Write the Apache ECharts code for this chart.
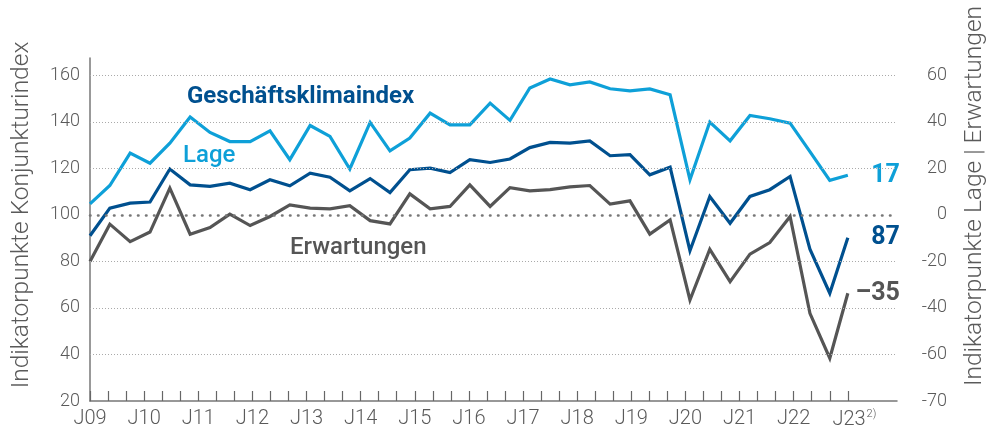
<!DOCTYPE html>
<html lang="de">
<head>
<meta charset="utf-8">
<title>Konjunkturindex</title>
<script src="https://cdn.jsdelivr.net/npm/echarts@6/dist/echarts.min.js"></script>
<style>
html, body {margin: 0; padding: 0; background: #fff;}
#chart {width: 990px; height: 433px;}
</style>
</head>
<body>
<div id="chart"></div>
<script>
// survey dates as months since January 2009
const surveyMonth = [0, 4.4, 8.9, 13.3, 17.7, 22.2, 26.6, 31.0, 35.5, 39.9,
	44.3, 48.8, 53.2, 57.6, 62.1, 66.5, 70.9, 75.4, 79.8, 84.2,
	88.7, 93.1, 97.5, 102.0, 106.4, 110.8, 115.3, 119.7, 124.1, 128.6,
	133.0, 137.4, 141.9, 146.3, 150.7, 155.2, 159.6, 164.0, 168];

// Geschäftsklimaindex, left axis
const klima = [91, 102.9, 105, 105.5, 119.7, 112.9, 112.2, 113.6, 110.8, 115.1,
	112.5, 117.9, 116.2, 110.3, 115.6, 109.6, 119.4, 120.1, 118.2, 123.7,
	122.5, 124, 128.9, 131.1, 130.8, 131.8, 125.4, 125.9, 117.2, 120.5,
	84.6, 107.9, 96.4, 107.9, 110.8, 116.5, 85.2, 66.3, 90.2];

// Lage and Erwartungen, right axis
const lage = [4.7, 12.6, 26.5, 22.2, 30.8, 42, 35.4, 31.5, 31.5, 36.1,
	23.7, 38.4, 33.7, 19.7, 39.7, 27.5, 33, 43.7, 38.7, 38.7,
	48, 40.6, 54.5, 58.4, 55.9, 57.1, 54.2, 53.3, 54.1, 51.6,
	15.1, 39.9, 31.8, 42.7, 41.3, 39.4, 27.2, 14.8, 17];

const erwartungen = [-20.1, -4, -11.5, -7.4, 11.5, -8.3, -5.5, 0.3, -4.6, -0.7,
	4.3, 2.9, 2.6, 3.9, -2.5, -3.9, 9, 2.6, 3.6, 12.9,
	3.6, 11.7, 10.3, 10.8, 12, 12.6, 4.6, 6, -8.3, -2.2,
	-36.6, -14.8, -28.7, -16.9, -11.9, -0.7, -42.3, -61.6, -33.7];

const yearLabels = ['J09', 'J10', 'J11', 'J12', 'J13', 'J14', 'J15', 'J16',
	'J17', 'J18', 'J19', 'J20', 'J21', 'J22', 'J23'];
const leftTicks = [20, 40, 60, 80, 100, 120, 140, 160];
const rightTicks = [-80, -60, -40, -20, 0, 20, 40, 60];
const rightLabels = ['-70', '-60', '-40', '-20', '0', '20', '40', '60'];
const gridValues = [40, 60, 80, 120, 140, 160];
const endText = ['87', '17', '–35'];

const colors = {klima: '#00508f', lage: '#0ea0d8', erw: '#555555'};
const font = 'Roboto';
const axisText = {fontFamily: font, fontSize: 18, fontWeight: 300, color: '#5a5a5a'};

const tickMonths = [];
for (let m = 0; m <= 168; m += 4)
	tickMonths.push(m);

function endLabel(index, color)
{
	return {
		show: true,
		formatter: () => endText[index],
		align: 'right',
		offset: [44, 0],
		fontFamily: font,
		fontSize: 25,
		fontWeight: 'bold',
		color
	};
}

function line(name, values, axis, color, index)
{
	return {
		name,
		type: 'line',
		yAxisIndex: axis,
		data: values.map((v, i) => [surveyMonth[i], v]),
		symbol: 'none',
		lineStyle: {color, width: 3.2, join: 'miter'},
		endLabel: endLabel(index, color),
		z: 3
	};
}

const chart = echarts.init(document.getElementById('chart'));
chart.setOption({
	animation: false,
	grid: {left: 90, right: 93, top: 58, bottom: 32},
	xAxis: {
		type: 'value',
		position: 'bottom',
		min: 0,
		max: 178.9,
		splitLine: {show: false},
		axisLine: {show: true, onZero: false, lineStyle: {color: '#777', width: 1.5}},
		axisTick: {show: true, inside: true, length: 10, customValues: tickMonths,
			lineStyle: {color: '#666', width: 1.2}},
		axisLabel: {
			customValues: yearLabels.map((_, i) => i * 12),
			formatter: v => v === 168
				? '{a|' + yearLabels[v / 12] + '}{sup|2)}'
				: yearLabels[v / 12],
			margin: 8,
			fontFamily: font, fontSize: 20, fontWeight: 300, color: '#5a5a5a',
			rich: {
				a: {fontFamily: font, fontSize: 20, fontWeight: 300, color: '#5a5a5a', padding: [0, 0, 0, 13]},
				sup: {fontFamily: font, fontSize: 11, fontWeight: 300, color: '#5a5a5a', verticalAlign: 'top', padding: [0, 0, 10, 1]}
			}
		}
	},
	yAxis: [{
		type: 'value',
		min: 20,
		max: 167.4,
		splitLine: {show: false},
		axisLine: {show: true, onZero: false, lineStyle: {color: '#777', width: 1.5}},
		axisTick: {show: false},
		axisLabel: Object.assign({customValues: leftTicks, margin: 10}, axisText)
	}, {
		type: 'value',
		position: 'right',
		min: -80,
		max: 67.4,
		splitLine: {show: false},
		axisLine: {show: false},
		axisTick: {show: false},
		axisLabel: Object.assign({
			customValues: rightTicks,
			formatter: v => rightLabels[rightTicks.indexOf(v)],
			align: 'right',
			margin: 50
		}, axisText)
	}],
	series: [{
		type: 'line',
		data: [],
		z: 1,
		markLine: {
			silent: true,
			symbol: 'none',
			label: {show: false},
			animation: false,
			data: gridValues.map(v => ({yAxis: v,
				lineStyle: {type: [1, 2], color: '#aaa', width: 1}}))
				.concat([{yAxis: 100,
					lineStyle: {type: [0.5, 7.5], cap: 'round', color: '#777', width: 2.6}}])
		}
	},
	line('Erwartungen', erwartungen, 1, colors.erw, 2),
	line('Lage', lage, 1, colors.lage, 1),
	line('Geschäftsklimaindex', klima, 0, colors.klima, 0)],
	graphic: [{
		type: 'text', x: 187, y: 96.5,
		style: {text: 'Geschäftsklimaindex', fill: colors.klima, align: 'left', verticalAlign: 'middle',
			font: 'bold 24px Roboto'}
	}, {
		type: 'text', x: 183, y: 156,
		style: {text: 'Lage', fill: colors.lage, align: 'left', verticalAlign: 'middle',
			font: '500 24px Roboto'}
	}, {
		type: 'text', x: 290, y: 248,
		style: {text: 'Erwartungen', fill: colors.erw, align: 'left', verticalAlign: 'middle',
			font: '500 24px Roboto'}
	}, {
		type: 'text', x: 22, y: 215, rotation: Math.PI / 2,
		style: {text: 'Indikatorpunkte Konjunkturindex', fill: '#5a5a5a', align: 'center', verticalAlign: 'middle',
			font: '300 24.5px Roboto'}
	}, {
		type: 'text', x: 975, y: 196, rotation: Math.PI / 2,
		style: {text: 'Indikatorpunkte Lage | Erwartungen', fill: '#5a5a5a', align: 'center', verticalAlign: 'middle',
			font: '300 24.5px Roboto'}
	}]
});
</script>
</body>
</html>
